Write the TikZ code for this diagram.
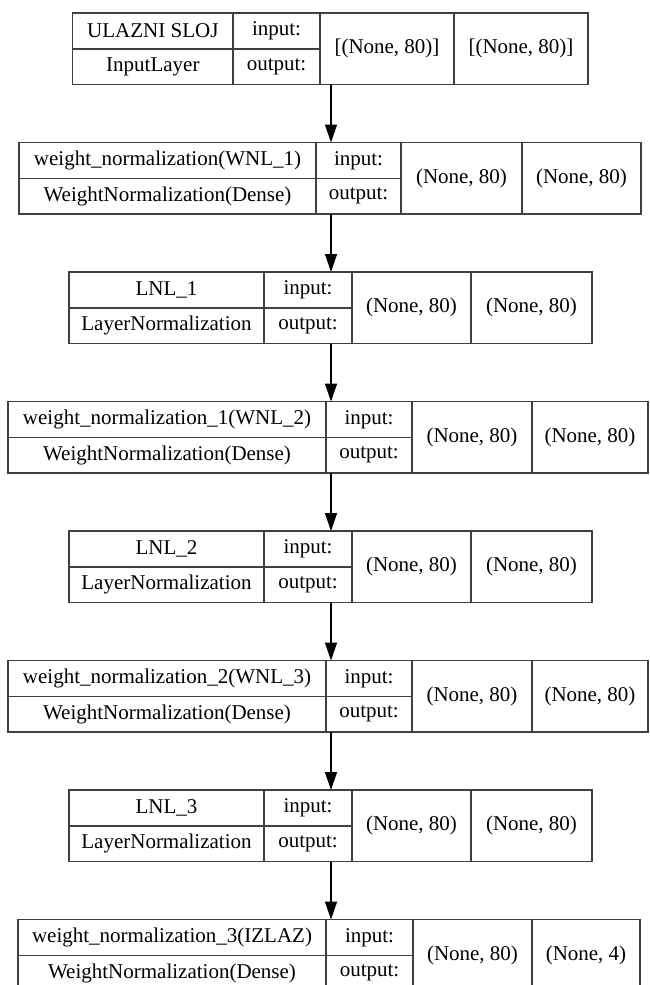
\documentclass[tikz,border=0pt]{standalone}
\usepackage{fontspec}
\newfontfamily\tmsfont{Liberation Serif}
\usetikzlibrary{arrows.meta}
\def\RH{35.75}
\def\inshape{(None, 80)}
\def\outshape{(None, 80)}
% #1 id, #2 top, #3..#7 x borders, #8 layer name, #9 class
\newcommand\rec[9]{%
  \node[cell, minimum width={#4-#3}, minimum height=\RH] (#1n) at ({(#3+#4)/2},{#2+\RH/2}) {#8};
  \node[cell, minimum width={#4-#3}, minimum height=\RH] (#1c) at ({(#3+#4)/2},{#2+1.5*\RH}) {#9};
  \node[cell, minimum width={#5-#4}, minimum height=\RH] (#1i) at ({(#4+#5)/2},{#2+\RH/2}) {input:};
  \node[cell, minimum width={#5-#4}, minimum height=\RH] (#1o) at ({(#4+#5)/2},{#2+1.5*\RH}) {output:};
  \node[cell, minimum width={#6-#5}, minimum height={2*\RH}] (#1s) at ({(#5+#6)/2},{#2+\RH}) {\inshape};
  \node[cell, minimum width={#7-#6}, minimum height={2*\RH}] (#1t) at ({(#6+#7)/2},{#2+\RH}) {\outshape};
  \coordinate (#1top) at (331,#2);
  \coordinate (#1bot) at (331,{#2+2*\RH});
}
\begin{document}
\begin{tikzpicture}[x=1pt,y=-1pt,
  cell/.style={draw=black!75, line width=1.5pt, inner sep=0pt, outer sep=0pt,
    font=\tmsfont\fontsize{21}{25}\selectfont, text=black},
  arr/.style={draw=black, line width=1.4pt, -{Triangle[length=18pt,width=12pt]}}]
\useasboundingbox (0,0) rectangle (649,985);
\clip (0,0) rectangle (649,985);
\fill[white] (0,0) rectangle (649,985);
\def\inshape{[(None, 80)]}\def\outshape{[(None, 80)]}
\rec{r1}{13}{72.7}{233}{320}{454}{588}{ULAZNI SLOJ}{InputLayer}
\def\inshape{(None, 80)}\def\outshape{(None, 80)}
\rec{r2}{142.5}{19}{316}{401}{522}{641}{weight\_normalization(WNL\_1)}{WeightNormalization(Dense)}
\rec{r3}{272}{69}{264}{352}{471}{592}{LNL\_1}{LayerNormalization}
\rec{r4}{401.5}{8}{326}{412}{532}{648}{weight\_normalization\_1(WNL\_2)}{WeightNormalization(Dense)}
\rec{r5}{531}{69}{264}{352}{471}{592}{LNL\_2}{LayerNormalization}
\rec{r6}{660.5}{8}{326}{412}{532}{648}{weight\_normalization\_2(WNL\_3)}{WeightNormalization(Dense)}
\rec{r7}{790}{69}{264}{352}{471}{592}{LNL\_3}{LayerNormalization}
\def\outshape{(None, 4)}
\rec{r8}{919.5}{18}{326}{413}{532}{640}{weight\_normalization\_3(IZLAZ)}{WeightNormalization(Dense)}
\draw[arr] (r1bot) -- (r2top);
\draw[arr] (r2bot) -- (r3top);
\draw[arr] (r3bot) -- (r4top);
\draw[arr] (r4bot) -- (r5top);
\draw[arr] (r5bot) -- (r6top);
\draw[arr] (r6bot) -- (r7top);
\draw[arr] (r7bot) -- (r8top);
\end{tikzpicture}
\end{document}
